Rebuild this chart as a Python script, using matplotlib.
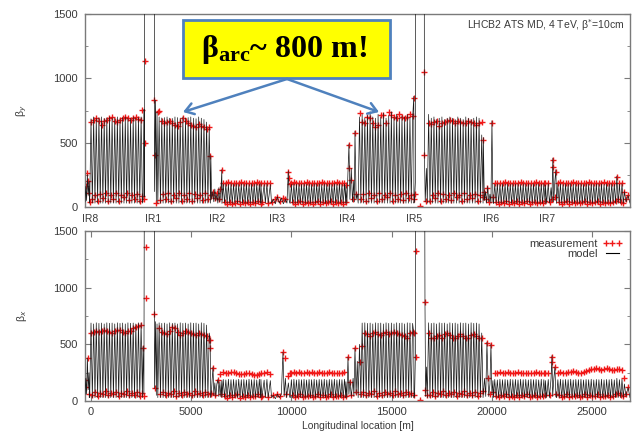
import numpy as np
import matplotlib
matplotlib.use("Agg")
import matplotlib.pyplot as plt
from matplotlib.ticker import MultipleLocator
from matplotlib.lines import Line2D
from matplotlib.patches import Rectangle, FancyArrowPatch

# ---------------- lattice layout (longitudinal position, m) ----------------
arc_start = [0, 3400, 6600, 10000, 13400, 16850, 20150, 23300]
arc_end = [2500, 5900, 8400, 12650, 16050, 19500, 22600, 26500]

ir_labels = ["IR8", "IR1", "IR2", "IR3", "IR4", "IR5", "IR6", "IR7"]
ir_label_pos = [-50, 3094, 6287, 9281, 12774, 16118, 19960, 22754]

x_ticks = [0, 5000, 10000, 15000, 20000, 25000]

# ---------------- vertical plane (beta_y) ----------------
model_trough_y = [30, 30, 28, 28, 30, 30, 28, 28]
model_peak_y = [
    [685, 700, 690, 695, 700, 688, 692, 700, 695, 690, 700, 686, 695, 700, 690, 688, 700, 692, 695, 700],
    [700, 692, 695, 700, 690, 688, 700, 695, 690, 700, 692, 695, 700, 690, 686, 700, 690, 680, 660, 620],
    [178, 180, 176, 180, 178, 180, 176, 180, 178, 180, 176, 180, 178, 180, 176],
    [176, 180, 178, 180, 176, 180, 178, 180, 176, 180, 178, 180, 176, 180, 178, 180, 176, 180, 178, 180, 176, 180],
    [700, 720, 690, 710, 740, 700, 690, 720, 700, 730, 690, 710, 740, 700, 720, 690, 710, 700, 720, 700, 690],
    [720, 690, 700, 680, 690, 700, 680, 690, 700, 690, 680, 700, 690, 680, 700, 690, 680, 690, 700, 690, 560],
    [178, 180, 176, 180, 178, 180, 176, 180, 178, 180, 176, 180, 178, 180, 176, 180, 178, 180, 176, 180],
    [178, 180, 176, 180, 178, 180, 176, 180, 178, 180, 176, 180, 178, 180, 176, 180, 178, 180, 176, 180, 178, 180, 176, 240, 178, 180],
]
meas_peak_y = [
    [660, 680, 690, 665, 640, 670, 680, 690, 700, 672, 660, 680, 690, 700, 688, 680, 690, 700, 686, 680],
    [745, 665, 650, 660, 670, 655, 640, 630, 660, 690, 670, 650, 640, 630, 625, 645, 630, 620, 610, 620],
    [190, 185, 192, 188, 186, 190, 184, 192, 188, 186, 190, 185, 188, 192, 186],
    [188, 192, 186, 190, 184, 188, 192, 186, 190, 188, 184, 190, 192, 186, 188, 190, 184, 188, 192, 186, 190, 188],
    [730, 660, 655, 700, 690, 652, 622, 640, 715, 715, 652, 738, 715, 700, 690, 720, 700, 690, 700, 720, 710],
    [652, 645, 660, 670, 630, 650, 660, 672, 680, 665, 650, 672, 660, 650, 655, 670, 660, 652, 640, 650, 660],
    [186, 190, 184, 188, 192, 186, 190, 188, 184, 190, 192, 186, 188, 190, 184, 188, 192, 186, 190, 188],
    [188, 192, 186, 190, 184, 188, 192, 186, 190, 188, 184, 190, 192, 186, 188, 190, 184, 188, 192, 186, 190, 188, 184, 233, 190, 186],
]
meas_low_y = [
    [60, 95, 45, 100, 70, 110, 50, 90, 65, 105, 45, 95, 75, 110, 55, 90, 60, 100, 50, 85],
    [55, 100, 65, 110, 45, 95, 70, 105, 50, 90, 60, 110, 45, 100, 70, 95, 55, 105, 60, 90],
    [35, 22, 40, 25, 30, 45, 20, 38, 28, 42, 24, 36, 30, 44, 26],
    [40, 25, 35, 45, 22, 38, 30, 42, 26, 36, 44, 24, 40, 28, 35, 45, 22, 38, 30, 42, 26, 36],
    [65, 100, 50, 110, 70, 90, 45, 105, 60, 95, 75, 110, 50, 90, 65, 100, 55, 105, 70, 95, 60],
    [50, 95, 70, 110, 45, 100, 65, 90, 55, 105, 75, 95, 50, 110, 60, 90, 70, 100, 45, 95, 80],
    [36, 24, 42, 30, 45, 22, 38, 28, 44, 26, 40, 32, 45, 24, 36, 42, 28, 38, 30, 44],
    [40, 26, 35, 45, 24, 38, 30, 42, 28, 36, 44, 22, 40, 30, 35, 45, 26, 38, 32, 42, 28, 36, 44, 60, 40, 30],
]
ir_model_y = [
    (-300, 40), (-260, 160), (-220, 50), (-180, 250), (-140, 90), (-100, 200), (-75, 40),
    (2600, 60), (2640, 760), (2670, 80), (2695, 5000), (3144, 5000), (3170, 120), (3220, 830),
    (3260, 50), (3295, 740),
    (5980, 400), (6020, 60), (6080, 120), (6130, 40), (6180, 140), (6230, 50), (6280, 100),
    (6330, 30), (6380, 150), (6430, 40), (6480, 120), (6530, 290),
    (8480, 180), (8530, 30), (8640, 175), (8700, 30), (8780, 180), (8840, 30), (8950, 175),
    (9010, 30), (9100, 60), (9200, 25), (9300, 80), (9400, 30), (9500, 70), (9600, 25),
    (9700, 60), (9780, 30), (9845, 280), (9900, 40),
    (12720, 160), (12770, 30), (12874, 490), (12920, 60), (12990, 300), (13050, 40),
    (13110, 200), (13140, 40), (13174, 590), (13230, 60), (13290, 100),
    (16110, 860), (16150, 60), (16190, 200), (16218, 5000), (16617, 5000), (16640, 420),
    (16680, 40), (16740, 300),
    (19580, 540), (19630, 50), (19690, 120), (19740, 30), (19800, 160), (19850, 40),
    (19910, 100), (19960, 30), (20010, 670), (20060, 40),
    (22680, 170), (22740, 30), (22820, 180), (22880, 30), (22960, 150), (23000, 40),
    (23050, 380), (23090, 40), (23150, 200), (23200, 290),
    (26620, 120), (26700, 40), (26800, 90), (26900, 30),
]
ir_meas_y = [
    (-250, 160), (-180, 262), (-140, 200), (-100, 110), (-60, 40),
    (2545, 754), (2695, 1134), (2695, 497), (2650, 60), (3144, 831), (3194, 404), (3250, 30),
    (3343, 738),
    (5938, 400), (6000, 90), (6100, 120), (6200, 70), (6300, 110), (6400, 60), (6450, 140),
    (6540, 287),
    (8480, 186), (8640, 184), (8780, 188), (8950, 186), (8530, 35), (8840, 30), (9050, 40),
    (9200, 60), (9300, 80), (9450, 50), (9600, 70), (9700, 60), (9845, 272), (9870, 225),
    (9950, 180),
    (12720, 170), (12874, 482), (12900, 300), (12990, 210), (13100, 60), (13174, 575),
    (13240, 100),
    (16118, 847), (16160, 100), (16400, 5), (16617, 1049), (16630, 404), (16700, 50),
    (19560, 521), (19620, 120), (19700, 60), (19780, 150), (19850, 40), (20010, 652),
    (20060, 80),
    (22680, 186), (22820, 190), (22900, 40), (23004, 60), (23050, 365), (23060, 311),
    (23150, 80), (23200, 272),
    (26620, 120), (26700, 60), (26820, 90),
]

# ---------------- horizontal plane (beta_x) ----------------
model_trough_x = [30, 30, 30, 30, 30, 30, 30, 30]
model_peak_x = [
    [688, 680, 690, 685, 688, 680, 690, 686, 688, 680, 690, 685, 688, 680, 690, 686, 688, 680, 690, 688],
    [690, 685, 688, 680, 690, 686, 688, 680, 690, 685, 688, 680, 690, 686, 688, 680, 690, 685, 670, 600],
    [190, 186, 192, 188, 190, 186, 192, 188, 190, 186, 192, 188, 190, 186, 192],
    [188, 192, 186, 190, 188, 192, 186, 190, 188, 192, 186, 190, 188, 192, 186, 190, 188, 192, 186, 190, 188, 192],
    [500, 688, 690, 685, 688, 680, 690, 686, 688, 680, 690, 685, 688, 680, 690, 686, 688, 680, 690, 688, 685],
    [690, 685, 688, 680, 690, 686, 688, 680, 690, 685, 688, 680, 690, 686, 688, 680, 690, 685, 688, 680, 600],
    [190, 186, 192, 188, 190, 186, 192, 188, 190, 186, 192, 188, 190, 186, 192, 188, 190, 186, 192, 188],
    [188, 192, 186, 190, 188, 192, 186, 190, 188, 192, 186, 190, 188, 192, 186, 190, 188, 192, 186, 190, 188, 192, 186, 200, 188, 192],
]
meas_peak_x = [
    [600, 612, 620, 605, 615, 630, 620, 610, 600, 615, 625, 630, 610, 600, 615, 620, 640, 650, 660, 672],
    [640, 609, 600, 590, 620, 653, 640, 610, 583, 600, 620, 610, 600, 590, 585, 600, 590, 580, 575, 538],
    [255, 250, 245, 258, 252, 248, 240, 236, 242, 250, 245, 238, 232, 228, 235],
    [250, 256, 248, 252, 245, 250, 255, 248, 252, 246, 250, 255, 248, 244, 250, 252, 246, 250, 248, 244, 250, 252],
    [345, 485, 600, 590, 575, 600, 610, 595, 585, 600, 605, 590, 600, 610, 598, 590, 585, 575, 560, 600, 610],
    [600, 560, 556, 570, 580, 556, 590, 600, 585, 560, 556, 575, 590, 570, 560, 556, 580, 590, 575, 560, 556],
    [250, 247, 252, 245, 250, 255, 248, 244, 250, 252, 246, 250, 248, 244, 250, 247, 252, 245, 248, 250],
    [250, 255, 248, 245, 252, 258, 262, 255, 250, 248, 256, 262, 270, 278, 285, 290, 280, 275, 285, 290, 280, 270, 275, 282, 278, 270],
]
meas_low_x = [
    [55, 80, 45, 75, 60, 85, 50, 70, 65, 80, 45, 75, 60, 85, 50, 70, 55, 80, 45, 75],
    [60, 80, 50, 75, 65, 85, 45, 70, 55, 80, 60, 75, 50, 85, 65, 70, 55, 80, 60, 75],
    [45, 30, 55, 35, 50, 60, 30, 48, 38, 55, 32, 46, 40, 58, 36],
    [50, 35, 45, 60, 32, 48, 40, 55, 36, 46, 58, 34, 50, 38, 45, 60, 32, 48, 40, 55, 36, 46],
    [60, 80, 50, 75, 65, 85, 45, 70, 55, 80, 60, 75, 50, 85, 65, 70, 55, 80, 60, 75, 50],
    [55, 80, 45, 75, 60, 85, 50, 70, 65, 80, 45, 75, 60, 85, 50, 70, 55, 80, 45, 75, 90],
    [46, 34, 52, 40, 58, 32, 48, 38, 55, 36, 50, 42, 58, 34, 46, 52, 38, 48, 40, 55],
    [50, 36, 45, 58, 34, 48, 40, 55, 38, 46, 58, 32, 50, 40, 45, 60, 36, 48, 42, 55, 38, 46, 58, 70, 50, 40],
]
ir_model_x = [
    (-300, 60), (-260, 200), (-220, 60), (-180, 380), (-140, 100), (-100, 250), (-75, 40),
    (2560, 60), (2595, 480), (2640, 60), (2695, 5000), (3144, 5000), (3170, 110), (3220, 700),
    (3260, 50), (3295, 680),
    (5950, 540), (6000, 60), (6088, 300), (6130, 50), (6180, 160), (6230, 40), (6280, 150),
    (6337, 190), (6380, 40), (6430, 170), (6480, 40), (6530, 180),
    (8480, 190), (8530, 30), (8640, 185), (8700, 30), (8780, 190), (8840, 30), (8950, 180),
    (9010, 30), (9100, 50), (9200, 20), (9300, 60), (9400, 30), (9500, 60), (9580, 430),
    (9640, 40), (9700, 200), (9760, 30), (9850, 160), (9920, 40),
    (12720, 170), (12770, 30), (12825, 390), (12870, 60), (12924, 180), (12990, 40),
    (13080, 200), (13120, 40), (13174, 470), (13230, 60), (13290, 350),
    (16110, 600), (16150, 60), (16190, 400), (16218, 5000), (16617, 5000), (16667, 880),
    (16700, 40), (16740, 300),
    (19580, 60), (19640, 200), (19700, 40), (19760, 520), (19810, 200), (19850, 40),
    (19910, 150), (19960, 500), (20010, 60), (20060, 180),
    (22680, 180), (22740, 30), (22820, 190), (22880, 30), (22960, 200), (23004, 400),
    (23040, 40), (23100, 200), (23154, 300), (23200, 40),
    (26620, 150), (26700, 40), (26800, 120), (26900, 30),
]
ir_meas_x = [
    (-300, 185), (-250, 120), (-150, 380), (-100, 60),
    (2595, 468), (2745, 1359), (2745, 909), (2650, 40), (3144, 768), (3194, 115),
    (5938, 538), (5960, 468), (6088, 291), (6337, 185), (6000, 60), (6200, 50), (6430, 240),
    (6500, 60),
    (8480, 250), (8640, 245), (8780, 252), (8950, 240), (8530, 40), (8840, 35), (9100, 50),
    (9300, 60), (9450, 40), (9580, 432), (9681, 380), (9750, 60), (9850, 220), (9950, 250),
    (12825, 390), (12924, 170), (13000, 50), (13174, 468), (13250, 80),
    (16118, 600), (16218, 390), (16218, 1324), (16400, 5), (16667, 876), (16667, 97),
    (16750, 50),
    (19760, 512), (19810, 203), (19960, 494), (19900, 60), (20050, 80),
    (22680, 250), (22820, 248), (22900, 50), (23004, 390), (23004, 345), (23154, 300),
    (23220, 60),
    (26620, 200), (26700, 60), (26820, 120),
]


def build_plane(model_peak, model_trough, meas_peak, meas_low, ir_model, ir_meas):
    """Assemble the model curve and BPM readings along the ring."""
    ms, mb, ps, pb = [], [], [], []
    for a0, a1, pk, tr, mpk, mlo in zip(arc_start, arc_end, model_peak,
                                         model_trough, meas_peak, meas_low):
        pos = np.linspace(a0, a1, len(pk))
        half = (a1 - a0) / (len(pk) - 1) / 2.0
        ms.append(pos[0] - half)
        mb.append(tr)
        for p, v in zip(pos, pk):
            ms += [p, p + half]
            mb += [v, tr]
        ps += list(pos)
        pb += list(mpk)
        ps += list(pos + half)
        pb += list(mlo)
    ms += [s for s, _ in ir_model]
    mb += [b for _, b in ir_model]
    order = np.argsort(ms, kind="stable")
    ms = np.asarray(ms)[order]
    mb = np.asarray(mb)[order]
    ps += [s for s, _ in ir_meas]
    pb += [b for _, b in ir_meas]
    return ms, mb, np.asarray(ps), np.asarray(pb)


W, H = 634, 438
fig = plt.figure(figsize=(W / 100, H / 100), dpi=100)
plt.rcParams["font.family"] = ["Liberation Sans", "DejaVu Sans"]

left, right = 85, 630
ax_y = fig.add_axes([left / W, 1 - 207 / H, (right - left) / W, (207 - 14) / H])
ax_x = fig.add_axes([left / W, 1 - 401 / H, (right - left) / W, (401 - 231) / H])

txt_col = "#3a3a3a"
frame_col = "#7a7a7a"
red = "#f01818"

planes = [
    (ax_y, model_peak_y, model_trough_y, meas_peak_y, meas_low_y, ir_model_y, ir_meas_y, "β$_y$"),
    (ax_x, model_peak_x, model_trough_x, meas_peak_x, meas_low_x, ir_model_x, ir_meas_x, "β$_x$"),
]

for ax, mpk, mtr, spk, slo, irm, irs, lab in planes:
    ms, mb, ps, pb = build_plane(mpk, mtr, spk, slo, irm, irs)
    ax.plot(ps, pb, linestyle="none", marker="+", color=red, ms=4.5, mew=1.0, zorder=2)
    ax.plot(ms, mb, color="#1a1a1a", lw=0.5, zorder=3)
    ax.set_xlim(-300, 26900)
    ax.set_ylim(0, 1500)
    ax.yaxis.set_major_locator(MultipleLocator(500))
    ax.yaxis.set_minor_locator(MultipleLocator(250))
    ax.tick_params(axis="both", which="both", direction="in", colors=frame_col,
                   labelcolor=txt_col, labelsize=8, top=True, right=True)
    ax.tick_params(axis="y", which="major", length=4, pad=5)
    ax.tick_params(axis="y", which="minor", length=2.5)
    for sp in ax.spines.values():
        sp.set_color(frame_col)
        sp.set_linewidth(1.0)
    ax.set_ylabel(lab, fontsize=7.5, color=txt_col)
    ax.yaxis.set_label_coords(-0.103, 0.5)

# IR names sit between the two panels
ax_y.set_xticks(ir_label_pos, ir_labels)
ax_y.tick_params(axis="x", length=0, pad=5, labelsize=7.5)

ax_x.set_xticks(x_ticks, [str(t) for t in x_ticks])
ax_x.tick_params(axis="x", length=4, pad=4)
ax_x.set_xlabel("Longitudinal location [m]", fontsize=7.5, color=txt_col, labelpad=3)

# run description
ax_y.text(0.99, 0.945, "LHCB2 ATS MD, 4 TeV, β$^{*}$=10cm", transform=ax_y.transAxes,
          ha="right", va="center", fontsize=7.5, color=txt_col)

# legend of the lower panel
handles = [
    Line2D([], [], linestyle="none", marker="+", color=red, ms=4.5, mew=1.0),
    Line2D([], [], color="black", lw=0.8),
]
ax_x.legend(handles, ["measurement", "model"], loc="upper right", frameon=False,
            markerfirst=False, numpoints=3, fontsize=8, handlelength=1.8,
            handletextpad=0.4, labelspacing=0.05, borderaxespad=0.3,
            labelcolor=txt_col)

# call-out box with arrows to the enhanced arcs
plt.rcParams["mathtext.fontset"] = "custom"
plt.rcParams["mathtext.rm"] = "Liberation Serif:bold"
plt.rcParams["mathtext.it"] = "Liberation Serif:bold"
plt.rcParams["mathtext.bf"] = "Liberation Serif:bold"
box_col = "#4f81bd"
fig.patches.append(Rectangle((183 / W, 1 - 78 / H), (390 - 183) / W, (78 - 20) / H,
                             transform=fig.transFigure, facecolor="#ffff00",
                             edgecolor=box_col, lw=2.0, zorder=5))
fig.text(284 / W, 1 - 50 / H, r"$\mathrm{β_{arc}}$~ 800 m!", ha="center", va="center",
         fontsize=23, family="Liberation Serif", weight="bold", color="black", zorder=6)
for tip in [(183, 112), (379, 112)]:
    fig.add_artist(FancyArrowPatch(
        (287 / W, 1 - 79 / H), (tip[0] / W, 1 - tip[1] / H), transform=fig.transFigure,
        arrowstyle="->,head_length=6,head_width=4", color=box_col, lw=1.8,
        shrinkA=0, shrinkB=0, zorder=6))

fig.savefig("out.png", dpi=100)
